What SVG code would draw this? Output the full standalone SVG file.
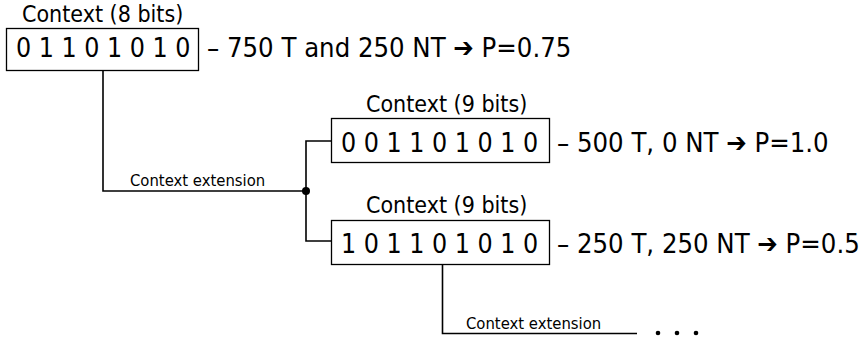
<svg xmlns="http://www.w3.org/2000/svg" width="867" height="339" viewBox="0 0 867 339">
  <style>
    text { font-family: "DejaVu Sans Condensed", "DejaVu Sans", sans-serif; font-stretch: condensed; fill: #000; }
    .bits { font-size: 26.5px; }
    .title { font-size: 23px; }
    .stat { font-size: 27.2px; }
    .ext { font-size: 16.5px; }
    .box { fill: #fff; stroke: #000; stroke-width: 1.3; }
    .wire { fill: none; stroke: #000; stroke-width: 1.6; }
  </style>

  <!-- connectors -->
  <g id="connectors">
    <polyline class="wire" points="103,71 103,191 306,191"/>
    <polyline class="wire" points="331,141 306,141 306,241 331,241"/>
    <circle cx="306" cy="191" r="4" fill="#000"/>
    <polyline class="wire" points="442.5,265 442.5,333.5 637,333.5"/>
    <text class="ext" x="130" y="186">Context extension</text>
    <text class="ext" x="466" y="329">Context extension</text>
    <circle cx="658" cy="333" r="2.3" fill="#000"/>
    <circle cx="677" cy="333" r="2.3" fill="#000"/>
    <circle cx="696" cy="333" r="2.3" fill="#000"/>
  </g>

  <!-- 8-bit context -->
  <g id="ctx8">
    <text class="title" x="22" y="22">Context (8 bits)</text>
    <rect class="box" x="6.5" y="28.5" width="192" height="42"/>
    <text class="bits" x="16" y="57">0 1 1 0 1 0 1 0</text>
    <text class="stat" x="207" y="57">– 750 T and 250 NT ➔ P=0.75</text>
  </g>

  <!-- 9-bit context, upper branch -->
  <g id="ctx9a">
    <text class="title" x="366" y="112">Context (9 bits)</text>
    <rect class="box" x="331.5" y="118.5" width="218" height="44"/>
    <text class="bits" x="341" y="152">0 0 1 1 0 1 0 1 0</text>
    <text class="stat" x="557" y="152">– 500 T, 0 NT ➔ P=1.0</text>
  </g>

  <!-- 9-bit context, lower branch -->
  <g id="ctx9b">
    <text class="title" x="366" y="213">Context (9 bits)</text>
    <rect class="box" x="331.5" y="220.5" width="218" height="44"/>
    <text class="bits" x="341" y="253">1 0 1 1 0 1 0 1 0</text>
    <text class="stat" x="557" y="253">– 250 T, 250 NT ➔ P=0.5</text>
  </g>
</svg>
